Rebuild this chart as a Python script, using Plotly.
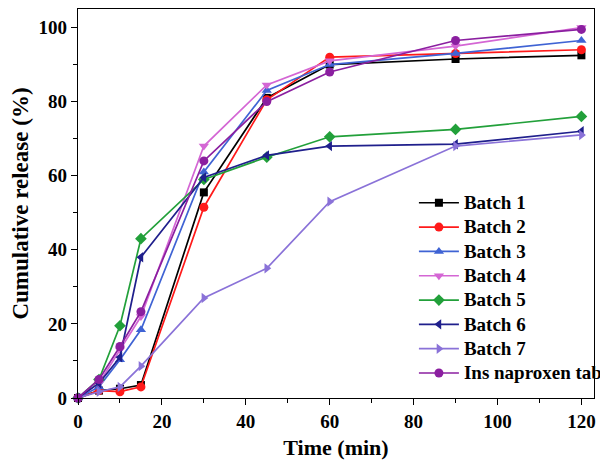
import plotly.graph_objects as go

time_min = [0, 5, 10, 15, 30, 45, 60, 90, 120]

series_names = ["Batch 1", "Batch 2", "Batch 3", "Batch 4", "Batch 5",
                "Batch 6", "Batch 7", "Ins naproxen tab"]
batch1 = [0, 2, 2.5, 3.5, 55.5, 81, 90, 91.5, 92.5]
batch2 = [0, 2, 1.7, 3, 51.5, 80.5, 92, 93, 94]
batch3 = [0, 3, 10.3, 18.4, 61, 83, 90, 93, 96.5]
batch4 = [0, 4, 13, 22, 68, 84.5, 91, 95, 100]
batch5 = [0, 5, 19.5, 43, 59, 65, 70.5, 72.5, 76]
batch6 = [0, 4, 11, 38, 59.5, 65.5, 68, 68.5, 72]
batch7 = [0, 1.7, 3, 8.6, 27, 35, 53, 68, 71]
ins_naproxen = [0, 5, 13.9, 23.3, 64, 80, 88, 96.5, 99.5]

values = [batch1, batch2, batch3, batch4, batch5, batch6, batch7, ins_naproxen]
colors = ["#000000", "#FF1A1A", "#3F63D4", "#D466D4", "#22A03A",
          "#1F1F8C", "#8A72D8", "#8B1FA0"]
symbols = ["square", "circle", "triangle-up", "triangle-down", "diamond",
           "triangle-left", "triangle-right", "circle"]

FONT = "Liberation Serif"

fig = go.Figure()
for name, vals, c, s in zip(series_names, values, colors, symbols):
    fig.add_trace(go.Scatter(
        x=time_min, y=vals, mode="lines+markers",
        name=f'<span style="font-size:19px">{name}</span>',
        line=dict(color=c, width=1.7),
        marker=dict(symbol=s, size=9 if s != "square" else 8, color=c),
        cliponaxis=False,
    ))

axis_common = dict(
    showline=True, linecolor="black", linewidth=1.2, mirror=True,
    ticks="outside", ticklen=6, tickwidth=1.2, tickcolor="black",
    showgrid=False, zeroline=False, automargin=False,
    tickfont=dict(family=FONT, size=19, color="black", weight="bold"),
    minor=dict(ticks="outside", ticklen=4, tickwidth=1.2, tickcolor="black", dtick=10),
)

fig.update_xaxes(range=[0, 123], dtick=20, tick0=0,
                 title=dict(text="<b>Time (min)</b>", font=dict(family=FONT, size=22, color="black"), standoff=8),
                 **axis_common)
fig.update_yaxes(range=[0, 105], dtick=20, tick0=0,
                 title=dict(text="<b>Cumulative release (%)</b>", font=dict(family=FONT, size=23, color="black"), standoff=6),
                 **axis_common)

fig.update_layout(
    width=600, height=463,
    margin=dict(l=70, r=8, t=1, b=73),
    paper_bgcolor="white", plot_bgcolor="white",
    font=dict(family=FONT, color="black"),
    legend=dict(
        x=0.651, y=0.546, xanchor="left", yanchor="top",
        font=dict(family=FONT, size=16.4, color="black", weight="bold"),
        bgcolor="rgba(255,255,255,0)", borderwidth=0,
        itemwidth=40,
    ),
    showlegend=True,
)

fig.write_html("out.html")
